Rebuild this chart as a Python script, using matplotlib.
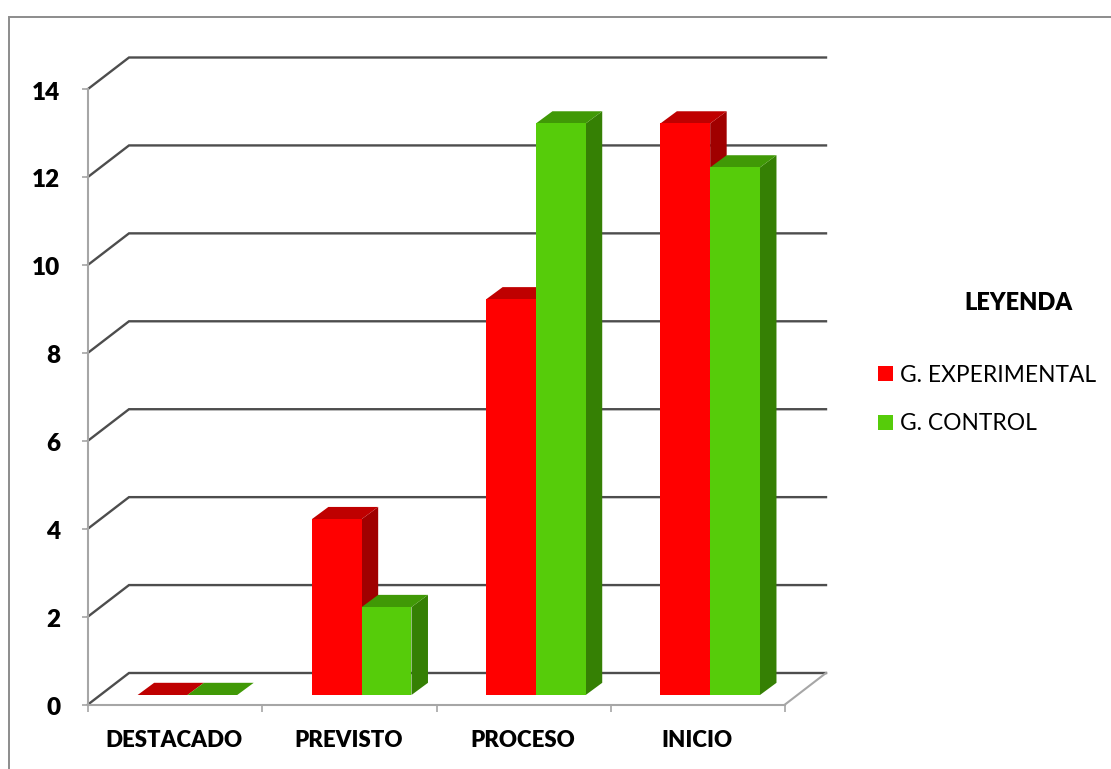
#!/usr/bin/env python3
"""Fake 3D clustered bars, drawn as flat polygons in a 2D axes."""

import matplotlib
matplotlib.use("Agg")
import matplotlib.pyplot as plt
from matplotlib.lines import Line2D
from matplotlib.patches import Polygon, Rectangle
from matplotlib.transforms import Affine2D

categories = ["DESTACADO", "PREVISTO", "PROCESO", "INICIO"]
experimental = [0, 4, 9, 13]
control = [0, 2, 13, 12]
y_ticks = [0, 2, 4, 6, 8, 10, 12, 14]
series_names = ["G. EXPERIMENTAL", "G. CONTROL"]
legend_title = "LEYENDA"

W, H = 1111, 769
FONT = "Lato"
HEAVY = "heavy"

# front plane of the box, in pixels
LEFT, RIGHT, BOTTOM, TOP = 88, 785, 704.5, 89
PX_X = (RIGHT - LEFT) / len(categories)
PX_Y = (BOTTOM - TOP) / 14

WALL_DX, WALL_DY = 41 / PX_X, 31.5 / PX_Y   # depth of the box
BAR_DX, BAR_DY = 16.5 / PX_X, 12.2 / PX_Y   # depth of one bar
OFF_X, OFF_Y = 12.3 / PX_X, 9.5 / PX_Y      # bars sit inside the floor
BAR_W = 49.8 / PX_X

GRID = "#4d4d4d"
AXIS = "#a6a6a6"
STYLES = [("#ff0000", "#bf0000", "#a00000"), ("#56cc0a", "#409906", "#358004")]


def draw_bar(ax, x, value, colors, z):
    front, top, side = colors
    y0 = OFF_Y
    y1 = OFF_Y + value
    ax.bar(x, value, width=BAR_W, bottom=y0, align="edge", color=front,
           linewidth=0, clip_on=False, zorder=z + 0.2)
    ax.add_patch(Polygon([(x, y1), (x + BAR_W, y1), (x + BAR_W + BAR_DX, y1 + BAR_DY),
                          (x + BAR_DX, y1 + BAR_DY)], closed=True, facecolor=top,
                         linewidth=0, clip_on=False, zorder=z + 0.1))
    if value > 0:
        ax.add_patch(Polygon([(x + BAR_W, y0), (x + BAR_W + BAR_DX, y0 + BAR_DY),
                              (x + BAR_W + BAR_DX, y1 + BAR_DY), (x + BAR_W, y1)],
                             closed=True, facecolor=side, linewidth=0, clip_on=False,
                             zorder=z))


fig = plt.figure(figsize=(W / 100, H / 100), dpi=100, facecolor="white")
ax = fig.add_axes([LEFT / W, 1 - BOTTOM / H, (RIGHT - LEFT) / W, (BOTTOM - TOP) / H])
ax.set_xlim(0, len(categories))
ax.set_ylim(0, 14)
ax.patch.set_visible(False)

for name in ["top", "right"]:
    ax.spines[name].set_visible(False)
for name in ["left", "bottom"]:
    ax.spines[name].set_color(AXIS)
    ax.spines[name].set_linewidth(1.5)

ax.set_yticks(y_ticks)
ax.set_yticklabels([str(v) for v in y_ticks], fontfamily=FONT, fontweight=HEAVY,
                   fontsize=17.5, color="black", va="center_baseline")
ax.set_xticks(range(len(categories) + 1))
ax.set_xticklabels([])
ax.tick_params(axis="y", length=4.5, width=1.2, color=AXIS, pad=15.5)
ax.tick_params(axis="x", length=5, width=1.2, color=AXIS)

# numbers sit a little lower than the ticks
for label in ax.get_yticklabels():
    label.set_transform(label.get_transform() + Affine2D().translate(0, -1.5))

# category names, placed under the middle of each slot
for i, cat in enumerate(categories):
    ax.annotate(cat, (i + 0.5, 0), xytext=(-1, -36), textcoords="offset pixels",
                ha="center", va="center", fontfamily=FONT, fontweight=HEAVY,
                fontsize=16, color="black", annotation_clip=False)

# grid: diagonal on the side wall, then straight along the back wall
n = len(categories)
for v in y_ticks:
    ax.plot([0, WALL_DX, n + WALL_DX], [v, v + WALL_DY, v + WALL_DY], color=GRID,
            linewidth=1.7, clip_on=False, zorder=1, solid_joinstyle="miter")
ax.plot([n, n + WALL_DX], [0, WALL_DY], color=AXIS, linewidth=1.5, clip_on=False, zorder=1)

# red first and green after, so green covers the side of red
for i in range(n):
    start = i + 0.5 + OFF_X - BAR_W
    draw_bar(ax, start, experimental[i], STYLES[0], 3 + i)
    draw_bar(ax, start + BAR_W, control[i], STYLES[1], 3.5 + i)

# outer frame, only left and top reach inside the picture
fig.add_artist(Line2D([8.5 / W, 8.5 / W, 1], [0, 1 - 17 / H, 1 - 17 / H], color="#8c8c8c",
                      linewidth=1.4, solid_joinstyle="miter"))

# legend
fig.text(1018 / W, 1 - 302.5 / H, legend_title, ha="center", va="center", fontfamily=FONT,
         fontweight=HEAVY, fontsize=17, color="black")
for name, style, y in zip(series_names, STYLES, [375, 423.5]):
    fig.add_artist(Rectangle((878.3 / W, 1 - (y + 6.5) / H), 15 / W, 15 / H,
                             facecolor=style[0], linewidth=0))
    fig.text(900 / W, 1 - y / H, name, ha="left", va="center", fontfamily=FONT,
             fontsize=16.4, color="black")

fig.savefig("out.png", dpi=100)
